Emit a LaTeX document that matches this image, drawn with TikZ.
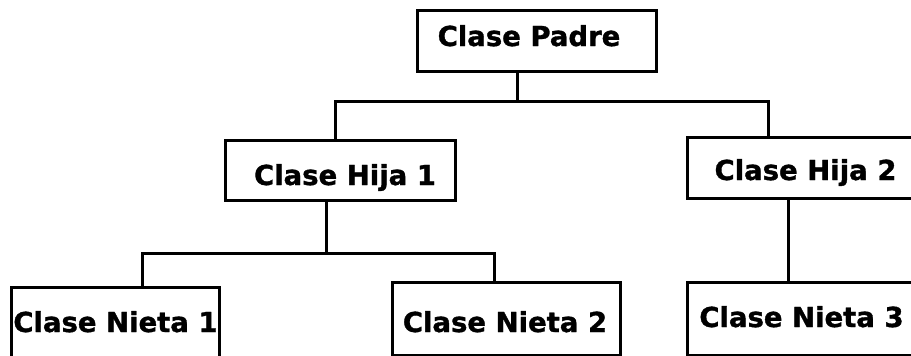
\documentclass[tikz,border=0pt]{standalone}
\usepackage{fontspec}
\setmainfont{DejaVu Sans}[BoldFeatures={FakeBold=1.2}]
\begin{document}
\begin{tikzpicture}[x=1pt,y=-1pt,
  box/.style={draw,line width=3pt,rectangle,inner sep=0pt,outer sep=0pt},
  lbl/.style={inner sep=0pt,anchor=base,font=\bfseries\fontsize{27.5}{27.5}\selectfont},
  conn/.style={line width=3pt}]
\useasboundingbox (0,0) rectangle (911,356);
\clip (0,0) rectangle (911,356);
% boxes
\node[box,minimum width=239pt,minimum height=61pt] (padre) at (537,41) {};
\node[box,minimum width=230pt,minimum height=60pt] (hija1) at (340,170) {};
\node[box,minimum width=248pt,minimum height=61pt] (hija2) at (811,167.5) {};
\node[box,minimum width=208pt,minimum height=93pt] (nieta1) at (115,333.5) {};
\node[box,minimum width=228pt,minimum height=73pt] (nieta2) at (506,318.5) {};
\node[box,minimum width=248pt,minimum height=73pt] (nieta3) at (811,318.5) {};
% labels
\node[lbl] (tpadre) at (529,46) {Clase Padre};
\node[lbl] (thija1) at (345,185) {Clase Hija 1};
\node[lbl] (thija2) at (805.5,180) {Clase Hija 2};
\node[lbl] (tnieta1) at (115.5,332) {Clase Nieta 1};
\node[lbl] (tnieta2) at (505,332) {Clase Nieta 2};
\node[lbl] (tnieta3) at (801.5,327) {Clase Nieta 3};
% junctions
\coordinate (j1) at (517,101);
\coordinate (j1l) at (335,101);
\coordinate (j1r) at (768,101);
\coordinate (j2) at (326,253);
\coordinate (j2l) at (142,253);
\coordinate (j2r) at (494,253);
\coordinate (j3) at (788,0);
% connectors
\draw[conn] (padre.south -| j1) -- (j1);
\draw[conn] (hija1.north -| j1l) -- (j1l) -- (j1r) -- (hija2.north -| j1r);
\draw[conn] (hija1.south -| j2) -- (j2);
\draw[conn] (nieta1.north -| j2l) -- (j2l) -- (j2r) -- (nieta2.north -| j2r);
\draw[conn] (hija2.south -| j3) -- (nieta3.north -| j3);
\end{tikzpicture}
\end{document}
